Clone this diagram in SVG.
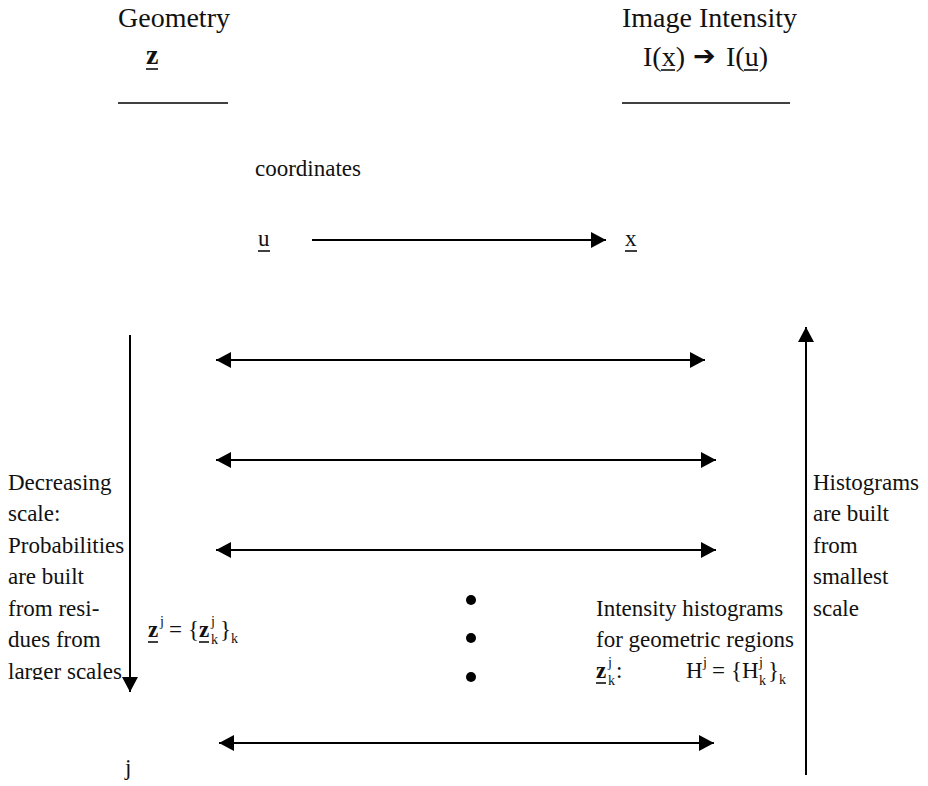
<svg xmlns="http://www.w3.org/2000/svg" width="928" height="786" viewBox="0 0 928 786">
<style>
text{font-family:"Liberation Serif","Times New Roman","DejaVu Serif",serif;fill:#111}
.h{font-size:28px}
.t{font-size:23px}
.s{font-size:14px}
.b{font-weight:bold}
.arw{font-family:"DejaVu Sans",sans-serif;font-size:27px}
.ln{stroke:#000;stroke-width:2;fill:none}
.ul{stroke:#000;stroke-width:1.5}
</style>
<defs>
<marker id="ah" viewBox="0 0 15 16" refX="15" refY="8" markerWidth="15" markerHeight="16" markerUnits="userSpaceOnUse" orient="auto-start-reverse">
<path d="M0,0 L15,8 L0,16 z" fill="#000"/>
</marker>
<clipPath id="clipL"><rect x="0" y="440" width="128" height="240"/></clipPath>
</defs>
<rect width="928" height="786" fill="#fff"/>

<g id="geometry">
<text class="h" x="118" y="27">Geometry</text>
<text class="h b" x="146" y="64">z</text>
<line class="ul" x1="146" y1="69" x2="158" y2="69"/>
<line class="ul" x1="118" y1="103" x2="228" y2="103"/>
</g>

<g id="image-intensity">
<text class="h" x="622" y="27">Image Intensity</text>
<text class="h" x="643" y="66">I(x)</text>
<line class="ul" x1="661" y1="70" x2="675" y2="70"/>
<text class="arw" x="693" y="65">➔</text>
<text class="h" x="726" y="66">I(u)</text>
<line class="ul" x1="744" y1="70" x2="758" y2="70"/>
<line class="ul" x1="622" y1="103" x2="790" y2="103"/>
</g>

<g id="coordinates">
<text class="t" x="255" y="176">coordinates</text>
<text class="t" x="258" y="246">u</text>
<line class="ul" x1="258" y1="251" x2="270" y2="251"/>
<text class="t" x="625" y="246">x</text>
<line class="ul" x1="625" y1="251" x2="637" y2="251"/>
</g>

<g id="left-label" clip-path="url(#clipL)">
<text class="t" x="8" y="490">Decreasing</text>
<text class="t" x="8" y="521">scale:</text>
<text class="t" x="8" y="553">Probabilities</text>
<text class="t" x="8" y="584">are built</text>
<text class="t" x="8" y="616">from resi-</text>
<text class="t" x="8" y="647">dues from</text>
<text class="t" x="8" y="679">larger scales</text>
</g>

<g id="right-label">
<text class="t" x="813" y="490">Histograms</text>
<text class="t" x="813" y="521">are built</text>
<text class="t" x="813" y="553">from</text>
<text class="t" x="813" y="584">smallest</text>
<text class="t" x="813" y="616">scale</text>
</g>

<g id="z-formula">
<text class="t b" x="148" y="637">z</text>
<line class="ul" x1="148" y1="642" x2="158" y2="642"/>
<text class="s" x="160" y="626">j</text>
<text class="t" x="169" y="637">=</text>
<text class="t" x="188" y="637">{</text>
<text class="t b" x="199" y="637">z</text>
<line class="ul" x1="199" y1="642" x2="209" y2="642"/>
<text class="s" x="211" y="626">j</text>
<text class="s" x="211" y="644">k</text>
<text class="t" x="220" y="637">}</text>
<text class="s" x="231" y="643">k</text>
</g>

<g id="histogram-label">
<text class="t" x="596" y="616">Intensity histograms</text>
<text class="t" x="596" y="647">for geometric regions</text>
<text class="t b" x="596" y="678">z</text>
<line class="ul" x1="596" y1="683" x2="606" y2="683"/>
<text class="s" x="608" y="667">j</text>
<text class="s" x="608" y="685">k</text>
<text class="t" x="616" y="678">:</text>
<text class="t" x="686" y="678">H</text>
<text class="s" x="703" y="667">j</text>
<text class="t" x="712" y="678">=</text>
<text class="t" x="731" y="678">{</text>
<text class="t" x="742" y="678">H</text>
<text class="s" x="759" y="667">j</text>
<text class="s" x="759" y="685">k</text>
<text class="t" x="768" y="678">}</text>
<text class="s" x="779" y="684">k</text>
</g>

<g id="dots" fill="#000">
<circle cx="471" cy="600" r="5"/>
<circle cx="471" cy="638" r="5"/>
<circle cx="471" cy="677" r="5"/>
</g>

<g id="j-label">
<text class="t" x="125" y="775">j</text>
</g>

<g id="connectors">
<line class="ln" x1="312" y1="240" x2="606" y2="240" marker-end="url(#ah)"/>
<line class="ln" x1="216" y1="360" x2="705" y2="360" marker-start="url(#ah)" marker-end="url(#ah)"/>
<line class="ln" x1="216" y1="460" x2="716" y2="460" marker-start="url(#ah)" marker-end="url(#ah)"/>
<line class="ln" x1="216" y1="550" x2="716" y2="550" marker-start="url(#ah)" marker-end="url(#ah)"/>
<line class="ln" x1="219" y1="743" x2="714" y2="743" marker-start="url(#ah)" marker-end="url(#ah)"/>
<line class="ln" x1="130" y1="335" x2="130" y2="692" marker-end="url(#ah)"/>
<line class="ln" x1="806" y1="775" x2="806" y2="327" marker-end="url(#ah)"/>
</g>
</svg>
